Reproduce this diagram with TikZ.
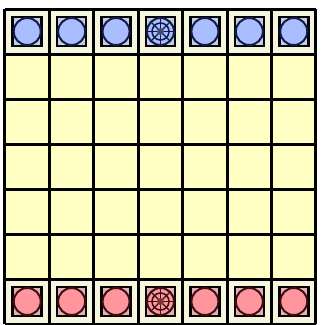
\documentclass[tikz,border=0pt]{standalone}
\begin{document}
\begin{tikzpicture}[x=1pt,y=-1pt]
\definecolor{cellyellow}{RGB}{255,255,196}
\definecolor{cellcream}{RGB}{246,246,222}
\definecolor{blueback}{RGB}{196,204,228}
\definecolor{bluefill}{RGB}{170,190,255}
\definecolor{blueline}{RGB}{16,28,70}
\definecolor{pinkback}{RGB}{226,176,184}
\definecolor{pinkfill}{RGB}{255,150,158}
\definecolor{pinkline}{RGB}{60,14,14}
\tikzset{
  gridline/.style={line width=3pt,draw=black},
  piecebox/.style={line width=2.6pt},
  piecering/.style={line width=2pt},
}
\useasboundingbox (0,0) rectangle (321,325);
\fill[white] (0,0) rectangle (321,325);
\pgfmathsetmacro{\cw}{311/7}
\pgfmathsetmacro{\ch}{45}
% cells
\foreach \j in {0,...,6}{
  \foreach \i in {0,...,6}{
    \pgfmathsetmacro{\xa}{5+\i*\cw}
    \pgfmathsetmacro{\ya}{9+\j*\ch}
    \ifnum\j=0 \def\cc{cellcream}\else\ifnum\j=6 \def\cc{cellcream}\else\def\cc{cellyellow}\fi\fi
    \fill[\cc] (\xa,\ya) rectangle ++(\cw,\ch);
  }
}
% pieces
\foreach \j/\bk/\fl/\ln in {0/blueback/bluefill/blueline, 6/pinkback/pinkfill/pinkline}{
  \foreach \i in {0,...,6}{
    \pgfmathsetmacro{\cx}{5+(\i+0.5)*\cw}
    \pgfmathsetmacro{\cy}{9+(\j+0.5)*\ch}
    \draw[piecebox,fill=\bk,draw=black!85!\ln] (\cx-14.5,\cy-14.5) rectangle (\cx+14.5,\cy+14.5);
    \draw[piecering,fill=\fl,draw=\ln] (\cx,\cy) circle (13.5);
    \ifnum\i=3
      \draw[\ln,line width=1.5pt] (\cx,\cy) circle (8.5);
      \foreach \a in {0,45,...,315}{
        \draw[\ln,line width=1.2pt] (\cx,\cy) -- ++(\a:13);
      }
      \fill[\ln!70!\fl] (\cx,\cy) circle (3.5);
    \fi
  }
}
% grid
\foreach \i in {0,...,7}{
  \pgfmathsetmacro{\xa}{5+\i*\cw}
  \draw[gridline] (\xa,9) -- (\xa,324);
}
\foreach \j in {0,...,7}{
  \pgfmathsetmacro{\ya}{9+\j*\ch}
  \draw[gridline] (5,\ya) -- (316,\ya);
}
\end{tikzpicture}
\end{document}
